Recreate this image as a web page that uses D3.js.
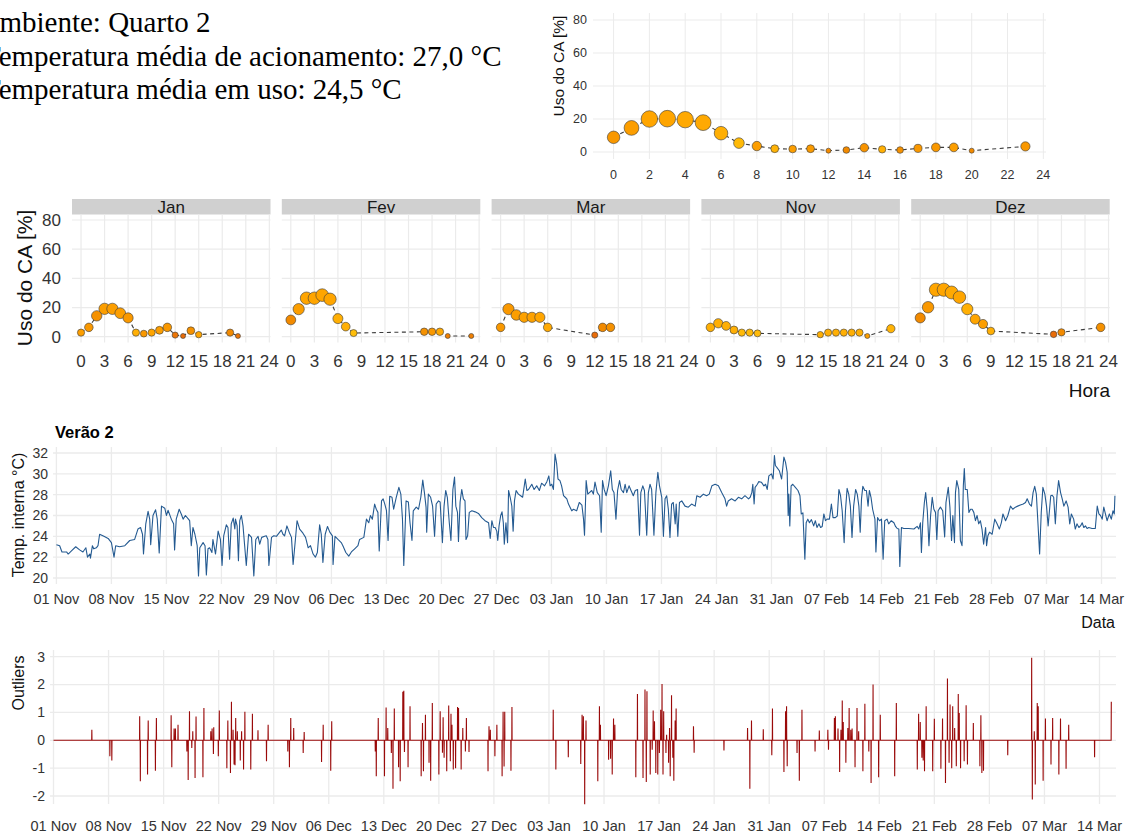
<!DOCTYPE html>
<html><head><meta charset="utf-8">
<script src="https://cdn.jsdelivr.net/npm/d3@7"></script>
<style>body{margin:0;background:#fff;} svg{display:block;font-family:"Liberation Sans",Arial,sans-serif;}</style>
</head><body>
<script>
// ---------------- DATA ----------------
const headerLines = ["Ambiente: Quarto 2", "Temperatura média de acionamento: 27,0 °C", "Temperatura média em uso: 24,5 °C"];

// overall hourly AC use (top panel)
const topHours = [0,1,2,3,4,5,6,7,8,9,10,11,12,13,14,15,16,17,18,19,20,23];
const topUse   = [8.9,14.6,20.0,20.2,19.6,17.8,11.4,5.4,3.6,2.0,1.8,2.0,0.8,1.2,2.6,1.6,1.2,2.2,2.8,2.8,0.8,3.4];
const topTemp  = [26.5,26,25.5,25.5,25.3,25.3,25,24.5,26,24.8,26,26.3,27.5,27.5,26.8,25,27,26.5,26.5,26,27.5,26.5];

// monthly facets
const months = ["Jan", "Fev", "Mar", "Nov", "Dez"];
const janHours = [0,1,2,3,4,5,6,7,8,9,10,11,12,13,14,15,19,20];
const janUse   = [2.8,6.4,14.3,19.1,19.1,16.1,12.9,2.8,2.1,2.8,4.4,6.4,1.1,0.5,4.1,1.4,2.8,0.5];
const janTemp  = [26,26.5,27,26,26,26,26.5,25,26.5,25.5,26,26.5,28.5,29,27,25.5,27.5,28.5];
const fevHours = [0,1,2,3,4,5,6,7,8,17,18,19,20,23];
const fevUse   = [11.5,18.9,26.4,26.4,28.5,25.7,12.4,6.9,2.5,3.4,3.4,3.4,0.5,0.5];
const fevTemp  = [27.5,26,25.5,25.5,25.5,25.5,25,25,24.3,27,26.5,25.3,28,28];
const marHours = [0,1,2,3,4,5,6,12,13,14];
const marUse   = [6.4,18.9,14.9,13.3,13.3,13.3,6.4,1.1,6.4,6.4];
const marTemp  = [26.5,26.5,26,25.8,25.8,25.5,25.3,29,27.5,27];
const novHours = [0,1,2,3,4,5,6,14,15,16,17,18,19,20,23];
const novUse   = [6.4,9.2,7.4,4.6,2.8,2.8,2.3,1.4,2.8,2.8,2.8,2.8,2.8,0.5,5.5];
const novTemp  = [25,25,25,25,24.5,24.5,24.5,25,25,25,25,25,25,26,24.8];
const dezHours = [0,1,2,3,4,5,6,7,8,9,17,18,23];
const dezUse   = [12.9,20.2,32.2,32.2,30.3,27.1,18.9,12.0,8.7,3.9,1.6,3.0,6.4];
const dezTemp  = [27.5,26.5,25.5,25.5,25.3,25.5,25,25.5,26,25,29,27.5,27];

const topXTicks = [0,2,4,6,8,10,12,14,16,18,20,22,24];
const facetXTicks = [0,3,6,9,12,15,18,21,24];
const useTicks = [0,20,40,60,80];

// indoor temperature series: [hours since 01 Nov 00:00, °C]
const tempSeries = [[0,23.2],[10,23.1],[17,22.5],[31,22.5],[36,22.3],[46,22.6],[59,23.0],[71,22.7],[81,22.5],[90,22.9],[95,22.0],[102,22.3],[104,21.9],[110,23.1],[114,22.8],[122,22.9],[127,23.1],[132,24.2],[145,24.0],[158,23.8],[168,23.4],[176,22.0],[181,23.1],[193,23.0],[209,23.1],[224,23.6],[239,23.7],[249,24.7],[257,24.85],[263,24.2],[266,22.3],[273,25.2],[280,26.4],[285,25.65],[288,23.2],[295,26.0],[303,26.55],[308,25.65],[314,22.4],[321,26.9],[331,26.7],[336,26.0],[341,26.5],[351,25.65],[358,25.2],[361,22.7],[366,25.65],[375,26.6],[382,26.1],[387,25.65],[394,26.0],[402,25.7],[407,25.5],[412,23.1],[417,24.85],[423,24.2],[430,23.1],[434,20.2],[438,22.9],[448,23.4],[454,23.1],[458,20.3],[463,22.8],[468,22.9],[475,22.45],[478,23.7],[486,22.3],[494,24.5],[501,23.7],[506,21.2],[511,24.05],[519,25.1],[524,24.85],[529,21.8],[534,25.2],[540,25.75],[545,24.7],[547,25.65],[552,25.0],[556,21.65],[560,25.5],[565,26.0],[570,25.0],[575,23.1],[580,21.2],[587,24.2],[596,23.9],[603,20.2],[609,23.7],[616,24.0],[621,23.25],[627,23.9],[636,24.0],[641,24.05],[646,23.7],[649,21.2],[657,23.9],[664,24.05],[672,24.0],[682,24.4],[687,24.6],[692,24.2],[697,24.05],[704,25.0],[711,24.4],[718,23.9],[723,21.3],[731,24.05],[735,25.5],[743,24.7],[753,24.3],[761,23.9],[769,22.9],[776,23.1],[784,22.3],[791,22.0],[797,22.45],[804,25.1],[809,24.2],[814,21.5],[821,24.2],[828,24.95],[835,24.4],[843,24.05],[845,21.3],[851,24.0],[860,23.7],[870,23.4],[875,23.1],[884,22.45],[893,22.1],[901,22.5],[911,22.8],[921,23.1],[926,23.7],[939,23.9],[947,25.65],[954,25.3],[959,26.0],[965,25.65],[972,27.1],[977,26.6],[982,26.3],[986,22.6],[993,27.4],[998,27.6],[1003,27.1],[1008,26.5],[1013,23.6],[1018,27.85],[1025,27.75],[1030,26.6],[1038,27.75],[1046,28.7],[1052,28.05],[1057,25.65],[1061,21.2],
[1068,27.4],[1075,27.3],[1080,25.3],[1086,23.6],[1090,26.45],[1099,26.8],[1106,26.6],[1113,27.75],[1119,29.4],[1124,28.2],[1129,26.8],[1131,24.4],[1136,28.05],[1143,27.75],[1149,26.9],[1155,24.0],[1160,27.1],[1167,27.4],[1172,27.3],[1179,23.4],[1184,26.9],[1189,28.4],[1194,27.75],[1200,25.3],[1205,23.6],[1211,28.5],[1216,29.7],[1220,26.9],[1225,26.3],[1228,23.5],[1233,27.3],[1238,28.5],[1243,27.6],[1248,27.4],[1251,23.7],[1256,24.05],[1261,26.3],[1269,26.45],[1279,26.35],[1289,26.2],[1299,25.8],[1309,25.5],[1320,25.3],[1325,23.8],[1330,25.5],[1335,24.85],[1340,24.85],[1345,24.5],[1348,23.6],[1352,25.0],[1357,26.0],[1361,26.35],[1365,25.3],[1368,23.25],[1373,25.3],[1378,23.4],[1381,28.4],[1386,27.75],[1391,26.9],[1395,24.5],[1399,27.4],[1404,28.4],[1411,28.05],[1418,27.9],[1424,27.75],[1432,29.5],[1437,28.4],[1442,28.5],[1452,29.0],[1459,28.5],[1467,28.85],[1475,28.4],[1482,29.1],[1491,28.85],[1498,29.25],[1504,29.8],[1508,28.85],[1513,29.0],[1518,28.5],[1523,31.9],[1528,30.95],[1532,29.5],[1538,29.35],[1543,28.85],[1549,27.9],[1554,27.75],[1559,27.6],[1564,27.1],[1574,26.45],[1579,26.6],[1589,26.45],[1597,27.25],[1605,27.0],[1610,25.65],[1613,24.1],[1618,29.35],[1623,28.05],[1628,28.2],[1635,28.4],[1640,28.05],[1645,29.2],[1652,28.2],[1659,27.9],[1664,24.4],[1668,29.35],[1673,28.5],[1679,27.9],[1686,28.85],[1693,30.3],[1698,28.5],[1703,28.2],[1709,25.65],[1714,28.4],[1720,29.35],[1725,28.5],[1732,28.2],[1737,29.0],[1742,28.2],[1749,28.85],[1755,28.4],[1762,27.9],[1768,28.4],[1775,28.5],[1781,24.1],[1785,28.2],[1791,28.85],[1796,28.4],[1803,24.1],[1808,28.2],[1813,29.0],[1818,28.5],[1825,24.1],[1831,28.2],[1837,30.15],[1842,28.85],[1849,27.75],[1854,24.0],[1859,27.6],[1864,27.9],[1869,26.6],[1874,23.9],[1879,27.1],[1884,27.25],[1890,25.2],[1893,27.1],[1898,24.0],[1903,27.25],[1910,27.4],[1920,26.9],[1930,26.8],[1940,27.1],[1951,26.9],[1956,27.9],[1966,27.75],[1976,28.05],[1986,27.9],[1994,28.05],[2002,28.85],[2012,29.0],[2022,28.85],[2032,28.2],[2042,27.6],[2047,26.9],[2052,27.4],[2062,27.6],[2073,27.4],[2083,27.75],[2093,27.6],[2103,27.9],[2114,27.6],[2119,27.75],[2124,28.2],[2127,29.0],[2131,27.1],[2134,28.7],[2141,29.0],
[2145,29.25],[2153,29.2],[2161,28.85],[2166,29.0],[2171,28.5],[2176,29.8],[2184,30.0],[2189,29.5],[2193,31.75],[2196,30.8],[2201,30.6],[2208,30.3],[2215,29.5],[2222,31.6],[2227,31.1],[2232,30.15],[2235,26.0],[2237,28.05],[2240,25.0],[2244,28.85],[2249,29.0],[2257,28.7],[2265,28.4],[2271,27.9],[2275,26.15],[2280,26.25],[2286,21.8],[2290,25.3],[2295,25.65],[2300,25.3],[2306,25.6],[2313,25.0],[2318,25.5],[2323,24.85],[2329,25.2],[2334,24.85],[2339,24.95],[2344,26.15],[2349,25.5],[2354,25.65],[2361,25.65],[2367,27.1],[2372,25.8],[2379,25.8],[2385,25.95],[2390,28.5],[2395,27.9],[2400,26.45],[2406,23.4],[2410,26.45],[2415,28.6],[2420,28.05],[2425,26.9],[2430,23.9],[2435,26.9],[2441,28.5],[2446,28.05],[2451,26.9],[2455,24.4],[2459,27.6],[2463,28.8],[2469,28.4],[2474,28.4],[2479,26.9],[2483,28.4],[2488,27.75],[2493,26.6],[2500,25.65],[2503,22.5],[2508,25.8],[2514,25.5],[2520,25.65],[2525,21.8],[2530,25.5],[2537,25.65],[2542,25.2],[2550,25.5],[2558,25.3],[2563,24.95],[2568,24.75],[2573,24.7],[2576,21.1],[2581,24.85],[2588,24.75],[2603,24.75],[2619,24.7],[2629,24.95],[2634,24.7],[2639,25.3],[2642,22.45],[2646,25.3],[2651,27.25],[2655,28.2],[2660,26.45],[2665,23.1],[2670,26.0],[2675,27.75],[2680,26.6],[2685,26.3],[2689,23.7],[2693,26.45],[2700,26.8],[2707,26.45],[2713,23.95],[2717,27.25],[2724,28.7],[2729,26.8],[2734,23.6],[2738,26.0],[2743,23.4],[2746,28.2],[2750,29.35],[2756,28.5],[2761,23.6],[2766,23.1],[2770,28.85],[2773,30.5],[2776,28.5],[2782,28.5],[2787,26.3],[2792,26.6],[2797,26.6],[2802,26.3],[2807,25.5],[2812,26.0],[2817,25.2],[2822,25.5],[2827,24.7],[2832,23.25],[2838,24.85],[2841,23.1],[2845,24.05],[2850,24.4],[2858,24.2],[2866,25.65],[2873,25.2],[2880,24.7],[2886,25.3],[2891,26.15],[2899,25.5],[2906,26.0],[2914,26.9],[2921,26.6],[2929,26.8],[2936,26.9],[2944,27.0],[2953,27.1],[2960,27.25],[2965,27.6],[2972,27.1],[2978,26.9],[2983,28.2],[2988,28.8],[2993,28.05],[2998,25.2],[3003,22.3],[3008,26.3],[3013,28.7],[3019,28.05],[3024,26.9],[3029,25.0],[3033,26.45],[3037,27.9],[3041,27.95],[3046,27.75],[3051,25.2],[3056,27.9],[3061,29.35],[3067,28.2],[3072,27.6],[3077,26.9],[3084,27.4],[3090,26.8],[3095,25.2],[3100,26.15],[3107,25.65],[3112,24.7],[3117,25.2],[3123,24.85],[3128,25.0],[3133,25.3],[3138,24.85],[3143,25.0],[3148,24.75],[3153,24.85],[3163,24.75],[3173,24.75],[3179,26.9],[3184,26.15],[3189,26.0],[3194,25.65],[3199,26.8],[3204,26.15],[3209,25.5],[3216,26.15],[3222,25.65],[3227,26.45],[3231,26.15],[3233,27.9]];

// outlier spikes: [hours since 01 Nov 00:00, value]
const outlierSpikes = [[117,0.38],[172,-0.57],[178,-0.73],[263,0.86],[265,-1.47],[287,-1.23],[289,0.71],[311,-1.09],[314,0.8],[359,0.9],[361,-0.97],[368,0.42],[372,0.42],[380,0.56],[407,-0.4],[411,-1.43],[415,1.04],[422,-0.28],[425,0.32],[432,-1.35],[435,0.85],[456,-1.33],[459,1.16],[480,0.32],[484,0.42],[488,-0.49],[489,0.47],[503,-0.57],[506,1.07],[529,-1.0],[532,0.71],[540,-1.17],[543,1.38],[548,0.38],[551,-0.87],[554,-0.9],[556,0.8],[561,0.32],[570,-0.73],[574,0.32],[580,-1.05],[584,1.02],[602,-1.05],[607,0.95],[624,0.36],[650,-0.75],[655,0.56],[715,-0.4],[720,-0.97],[724,0.8],[733,0.44],[762,-0.46],[765,0.3],[818,-0.78],[823,0.56],[846,-1.09],[849,0.68],[982,-0.4],[985,-1.29],[991,0.8],[1010,-1.29],[1015,1.18],[1020,0.44],[1031,-0.46],[1036,-1.74],[1040,1.14],[1053,-0.97],[1058,-1.47],[1066,1.74],[1069,1.78],[1071,-0.42],[1082,-0.97],[1088,1.22],[1122,-1.29],[1126,0.62],[1129,-1.11],[1135,0.92],[1146,-0.81],[1151,-1.45],[1156,1.34],[1176,-1.23],[1180,1.04],[1187,-0.45],[1189,0.83],[1192,-0.63],[1200,-1.11],[1206,1.25],[1211,-0.75],[1213,0.95],[1216,0.56],[1220,-1.05],[1227,-1.0],[1233,1.19],[1236,1.16],[1244,-1.05],[1249,0.44],[1257,-0.4],[1260,0.8],[1268,-0.42],[1326,-1.11],[1329,0.5],[1333,0.38],[1347,-0.57],[1353,0.56],[1369,-1.29],[1372,1.02],[1375,-0.94],[1377,1.02],[1396,-1.09],[1399,1.19],[1525,1.1],[1533,-1.05],
[1571,-0.61],[1609,-0.85],[1613,0.92],[1617,0.86],[1621,-2.3],[1625,0.71],[1661,-1.47],[1666,1.22],[1669,0.56],[1694,-0.7],[1700,-0.66],[1705,-1.23],[1709,0.78],[1713,0.56],[1777,-1.33],[1782,1.66],[1799,-1.35],[1805,1.82],[1809,-1.5],[1811,1.76],[1821,-1.23],[1827,-0.34],[1830,1.07],[1834,0.68],[1838,-1.17],[1844,-1.23],[1849,-0.46],[1853,1.1],[1857,2.02],[1860,-1.23],[1862,1.04],[1869,-0.46],[1871,0.2],[1877,-0.81],[1880,0.44],[1882,-1.29],[1886,1.62],[1890,-0.63],[1893,-1.45],[1897,0.71],[1900,1.14],[1953,0.5],[1955,-0.45],[2046,-0.37],[2118,0.44],[2125,-1.74],[2130,0.71],[2166,0.4],[2192,-0.54],[2194,1.14],[2229,-1.14],[2234,1.04],[2237,1.22],[2239,-0.93],[2269,-0.46],[2276,-1.45],[2284,1.1],[2324,-0.4],[2337,0.35],[2363,0.38],[2365,-0.34],[2383,0.8],[2386,0.86],[2394,0.42],[2399,-1.14],[2403,0.38],[2407,1.43],[2410,0.66],[2418,-0.81],[2424,0.44],[2428,1.16],[2433,0.38],[2437,0.42],[2446,-0.97],[2452,1.16],[2457,0.32],[2470,-1.11],[2476,1.31],[2488,-0.4],[2495,-1.53],[2501,2.0],[2518,-1.33],[2523,0.92],[2567,-1.29],[2572,1.34],[2636,-1.05],[2640,0.95],[2645,0.66],[2650,-0.63],[2654,-0.73],[2658,-1.11],[2663,1.22],[2683,-1.11],[2688,0.77],[2708,-1.02],[2713,0.78],[2722,-1.53],[2728,2.22],[2733,-0.81],[2736,1.28],[2741,-1.0],[2744,1.22],[2750,0.44],[2755,-0.93],[2761,1.66],[2764,0.98],[2768,-1.0],[2779,-0.75],[2785,1.26],[2789,-0.87],[2807,0.62],[2827,-0.93],[2830,0.9],[2833,-1.17],[2838,-1.09],[2912,-0.54],[2985,2.96],[2987,-2.13],[2993,0.32],[2996,-1.59],[3002,1.34],[3005,1.22],[3020,-1.45],[3027,0.78],[3044,-0.87],[3049,0.8],[3068,-1.23],[3073,0.78],[3090,-1.02],[3098,0.56],[3177,-0.61],[3228,1.38]];

const dateTickLabels = ["01 Nov","08 Nov","15 Nov","22 Nov","29 Nov","06 Dec","13 Dec","20 Dec","27 Dec","03 Jan","10 Jan","17 Jan","24 Jan","31 Jan","07 Feb","14 Feb","21 Feb","28 Feb","07 Mar","14 Mar"];
const tempTicks = [20,22,24,26,28,30,32];
const outlierTicks = [-2,-1,0,1,2,3];

// ---------------- DRAWING ----------------
const W = 1125, H = 834;
const GRID = "#EBEBEB", TICK = "#333333", TITLE = "#111111";
const svg = d3.select("body").append("svg").attr("width", W).attr("height", H);

// header text (clipped at left edge like the reference)
const headerPos = [[-21.5, 32], [-17, 66], [-17, 99]];
svg.selectAll("text.hdr").data(headerLines).join("text").attr("class", "hdr")
  .attr("x", (d, i) => headerPos[i][0]).attr("y", (d, i) => headerPos[i][1])
  .attr("font-family", "'Liberation Serif','Times New Roman',serif")
  .attr("font-size", 29).attr("fill", "#000").text(d => d);

const color = d3.scaleLinear().domain([24, 25.5, 27.5, 29.5])
  .range(["#FFC40C", "#FFA500", "#F28A00", "#E5620C"]).clamp(true);

function dots(g, hours, use, temp, x, y, r) {
  const line = d3.line().x((d, i) => x(hours[i])).y(d => y(d));
  g.append("path").datum(use).attr("d", line).attr("fill", "none")
    .attr("stroke", "#3c3c3c").attr("stroke-width", 1.1).attr("stroke-dasharray", "4,3.5");
  g.selectAll("circle").data(use).join("circle")
    .attr("cx", (d, i) => x(hours[i])).attr("cy", d => y(d)).attr("r", d => r(d))
    .attr("fill", (d, i) => color(temp[i])).attr("stroke", "#3a3a3a").attr("stroke-width", 0.6);
}

// ---- top panel ----
{
  const x = d3.scaleLinear().domain([-1.15, 24.15]).range([593, 1046]);
  const y = d3.scaleLinear().domain([0, 80]).range([152, 20]);
  const g = svg.append("g");
  g.selectAll("line.h").data(useTicks).join("line").attr("x1", 593).attr("x2", 1046)
    .attr("y1", d => y(d)).attr("y2", d => y(d)).attr("stroke", GRID).attr("stroke-width", 1);
  g.selectAll("line.v").data(topXTicks).join("line").attr("class", "v").attr("y1", 13).attr("y2", 159)
    .attr("x1", d => x(d)).attr("x2", d => x(d)).attr("stroke", GRID).attr("stroke-width", 1);
  g.selectAll("text.yl").data(useTicks).join("text").attr("class", "yl").attr("x", 587).attr("y", d => y(d))
    .attr("dy", "0.35em").attr("text-anchor", "end").attr("font-size", 12.5).attr("fill", TICK).text(d => d);
  g.selectAll("text.xl").data(topXTicks).join("text").attr("class", "xl").attr("x", d => x(d)).attr("y", 175)
    .attr("dy", "0.35em").attr("text-anchor", "middle").attr("font-size", 12.5).attr("fill", TICK).text(d => d);
  g.append("text").attr("transform", "translate(564,66) rotate(-90)").attr("text-anchor", "middle")
    .attr("font-size", 15.5).attr("fill", TITLE).text("Uso do CA [%]");
  const vmin = d3.min(topUse), vmax = d3.max(topUse);
  const rs = d3.scaleSqrt().domain([0, vmax - vmin]).range([2.5, 8.3]);
  dots(g, topHours, topUse, topTemp, x, y, v => rs(v - vmin));
}

// ---- facets ----
{
  const facetData = [[janHours, janUse, janTemp], [fevHours, fevUse, fevTemp], [marHours, marUse, marTemp], [novHours, novUse, novTemp], [dezHours, dezUse, dezTemp]];
  const allUse = [].concat(janUse, fevUse, marUse, novUse, dezUse);
  const vmin = d3.min(allUse), vmax = d3.max(allUse);
  const rs = d3.scaleSqrt().domain([0, vmax - vmin]).range([2.5, 6.6]);
  const y = d3.scaleLinear().domain([0, 80]).range([336.7, 220]);
  const pw = 198.5, step = 209.8, top = 214.5, bottom = 342.5;
  months.forEach((m, i) => {
    const left = 72 + i * step;
    const x = d3.scaleLinear().domain([-1.15, 24.15]).range([left, left + pw]);
    const g = svg.append("g");
    g.append("rect").attr("x", left).attr("y", 199).attr("width", pw).attr("height", 15.5).attr("fill", "#D0D0D0");
    g.append("text").attr("x", left + pw / 2).attr("y", 207).attr("dy", "0.36em").attr("text-anchor", "middle")
      .attr("font-size", 17).attr("fill", "#1a1a1a").text(m);
    g.selectAll("line.h").data(useTicks).join("line").attr("class", "h").attr("x1", left).attr("x2", left + pw)
      .attr("y1", d => y(d)).attr("y2", d => y(d)).attr("stroke", GRID).attr("stroke-width", 1.2);
    g.selectAll("line.v").data(facetXTicks).join("line").attr("class", "v").attr("y1", top).attr("y2", bottom)
      .attr("x1", d => x(d)).attr("x2", d => x(d)).attr("stroke", GRID).attr("stroke-width", 1.2);
    g.selectAll("text.xl").data(facetXTicks).join("text").attr("class", "xl").attr("x", d => x(d)).attr("y", 361.5)
      .attr("dy", "0.35em").attr("text-anchor", "middle").attr("font-size", 17).attr("fill", TICK).text(d => d);
    if (i === 0) {
      g.selectAll("text.yl").data(useTicks).join("text").attr("class", "yl").attr("x", 61).attr("y", d => y(d))
        .attr("dy", "0.35em").attr("text-anchor", "end").attr("font-size", 17).attr("fill", TICK).text(d => d);
    }
    const [hh, uu, tt] = facetData[i];
    dots(g, hh, uu, tt, x, y, v => rs(v - vmin));
  });
  svg.append("text").attr("transform", "translate(32,278) rotate(-90)").attr("text-anchor", "middle")
    .attr("font-size", 21).attr("fill", TITLE).text("Uso do CA [%]");
  svg.append("text").attr("x", 1110).attr("y", 397).attr("text-anchor", "end")
    .attr("font-size", 19).attr("fill", TITLE).text("Hora");
}

const t0 = Date.UTC(2018, 10, 1);
const hourToDate = h => new Date(t0 + h * 3600e3);
const tickDates = dateTickLabels.map((d, i) => d3.utcDay.offset(new Date(t0), 7 * i));

// ---- temperature series ----
{
  const x = d3.scaleUtc().domain([tickDates[0], tickDates[tickDates.length - 1]]).range([56.4, 1101.5]);
  const y = d3.scaleLinear().domain([20, 32]).range([578, 453]);
  const g = svg.append("g");
  g.selectAll("line.h").data(tempTicks).join("line").attr("class", "h").attr("x1", 53).attr("x2", 1116)
    .attr("y1", d => y(d)).attr("y2", d => y(d)).attr("stroke", GRID).attr("stroke-width", 1.3);
  g.selectAll("line.v").data(tickDates).join("line").attr("class", "v").attr("y1", 447).attr("y2", 584)
    .attr("x1", d => x(d)).attr("x2", d => x(d)).attr("stroke", GRID).attr("stroke-width", 1.3);
  g.selectAll("text.yl").data(tempTicks).join("text").attr("class", "yl").attr("x", 48).attr("y", d => y(d))
    .attr("dy", "0.35em").attr("text-anchor", "end").attr("font-size", 14).attr("fill", TICK).text(d => d);
  g.selectAll("text.xl").data(dateTickLabels).join("text").attr("class", "xl").attr("x", (d, i) => x(tickDates[i])).attr("y", 599)
    .attr("dy", "0.35em").attr("text-anchor", "middle").attr("font-size", 14.5).attr("fill", TICK).text(d => d);
  const line = d3.line().x(d => x(hourToDate(d[0]))).y(d => y(d[1]));
  g.append("path").datum(tempSeries).attr("d", line).attr("fill", "none")
    .attr("stroke", "#245A91").attr("stroke-width", 1.1).attr("stroke-linejoin", "round");
  g.append("text").attr("x", 55).attr("y", 438).attr("font-size", 16.5).attr("font-weight", "bold")
    .attr("fill", "#000").text("Verão 2");
  g.append("text").attr("transform", "translate(24,515) rotate(-90)").attr("text-anchor", "middle")
    .attr("font-size", 16).attr("fill", TITLE).text("Temp. interna °C)");
  g.append("text").attr("x", 1115).attr("y", 628).attr("text-anchor", "end")
    .attr("font-size", 16).attr("fill", TITLE).text("Data");
}

// ---- outliers ----
{
  const x = d3.scaleUtc().domain([tickDates[0], tickDates[tickDates.length - 1]]).range([53.5, 1099.5]);
  const y = d3.scaleLinear().domain([-2, 3]).range([796, 656.7]);
  const g = svg.append("g");
  g.selectAll("line.h").data(outlierTicks).join("line").attr("class", "h").attr("x1", 50).attr("x2", 1116)
    .attr("y1", d => y(d)).attr("y2", d => y(d)).attr("stroke", GRID).attr("stroke-width", 1.3);
  g.selectAll("line.v").data(tickDates).join("line").attr("class", "v").attr("y1", 650).attr("y2", 804)
    .attr("x1", d => x(d)).attr("x2", d => x(d)).attr("stroke", GRID).attr("stroke-width", 1.3);
  g.selectAll("text.yl").data(outlierTicks).join("text").attr("class", "yl").attr("x", 45).attr("y", d => y(d))
    .attr("dy", "0.35em").attr("text-anchor", "end").attr("font-size", 14).attr("fill", TICK).text(d => d);
  g.selectAll("text.xl").data(dateTickLabels).join("text").attr("class", "xl").attr("x", (d, i) => x(tickDates[i])).attr("y", 826)
    .attr("dy", "0.35em").attr("text-anchor", "middle").attr("font-size", 14.5).attr("fill", TICK).text(d => d);
  const pts = [[0, 0]];
  outlierSpikes.forEach((s, i) => {
    pts.push([s[0] - 0.45, 0], s);
    if (i < outlierSpikes.length - 1) pts.push([s[0] + 0.45, 0]);
  });
  const line = d3.line().x(d => x(hourToDate(d[0]))).y(d => y(d[1]));
  g.append("path").datum(pts).attr("d", line).attr("fill", "none")
    .attr("stroke", "#9A0A0A").attr("stroke-width", 1.1);
  g.append("text").attr("transform", "translate(24,683) rotate(-90)").attr("text-anchor", "middle")
    .attr("font-size", 16).attr("fill", TITLE).text("Outliers");
}
</script>
</body></html>
